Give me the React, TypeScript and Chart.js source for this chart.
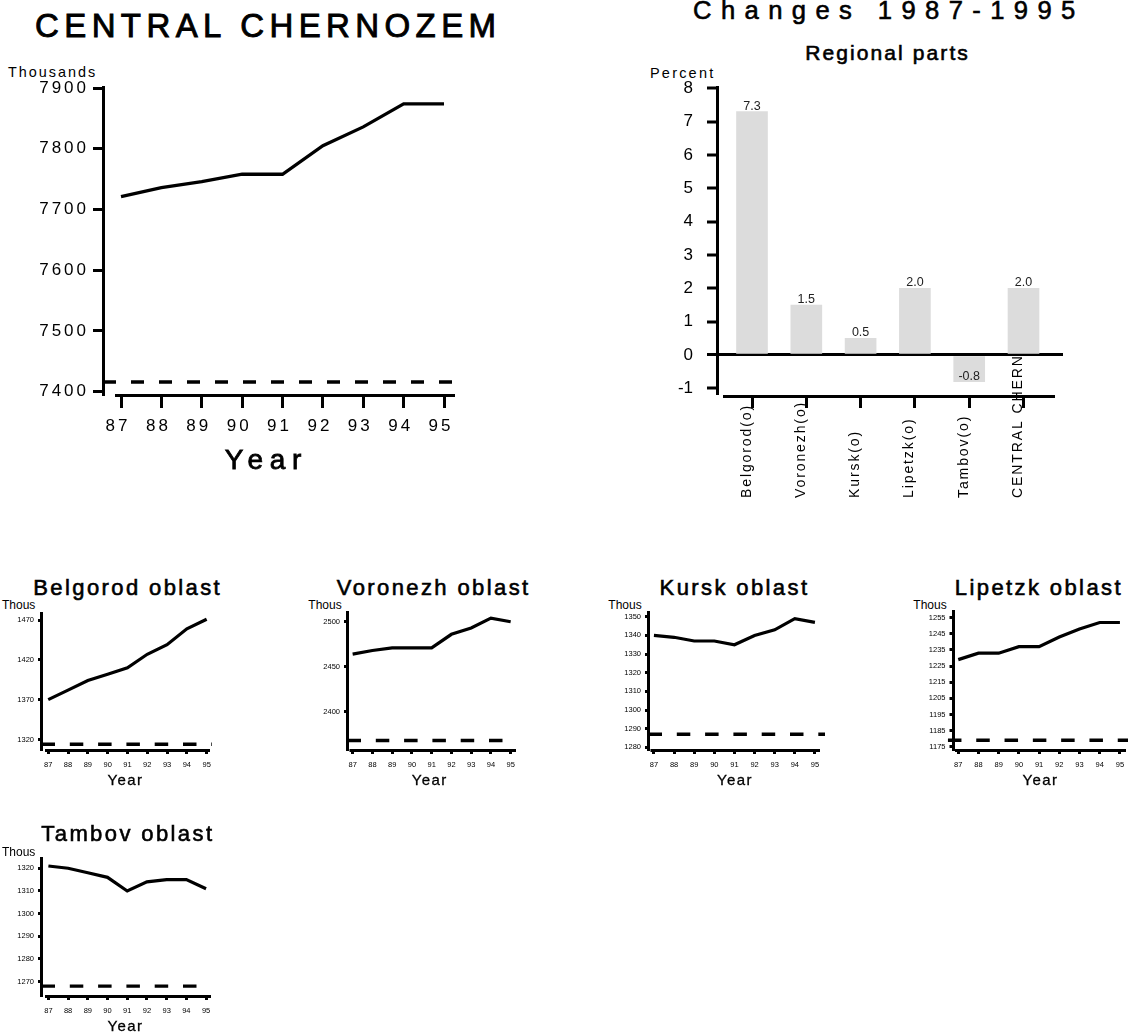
import React, { useEffect, useRef } from 'react';
import { Chart, registerables } from 'chart.js';

Chart.register(...registerables);

const FONT = '"Liberation Sans", Arial, Helvetica, sans-serif';
const NARROW = '"Liberation Sans Narrow", "Liberation Sans", Arial, sans-serif';

// ---------------- data ----------------
const YEARS = [87, 88, 89, 90, 91, 92, 93, 94, 95];

const CENTRAL_VALUES = [7721, 7736, 7746, 7758, 7758, 7805, 7836, 7874, 7874];
const CENTRAL_TICKS = [7400, 7500, 7600, 7700, 7800, 7900];
const CENTRAL_BASE = 7416;

const REGION_LABELS = ['Belgorod(o)', 'Voronezh(o)', 'Kursk(o)', 'Lipetzk(o)', 'Tambov(o)', 'CENTRAL CHERN'];
const REGION_CHANGES = [7.3, 1.5, 0.5, 2.0, -0.8, 2.0];
const CHANGE_TICKS = [-1, 0, 1, 2, 3, 4, 5, 6, 7, 8];

const BELGOROD_VALUES = [1370, 1382, 1394, 1402, 1410, 1427, 1439, 1459, 1471];
const BELGOROD_TICKS = [1320, 1370, 1420, 1470];
const BELGOROD_BASE = 1314;

const VORONEZH_VALUES = [2464, 2468, 2471, 2471, 2471, 2486, 2493, 2504, 2500];
const VORONEZH_TICKS = [2400, 2450, 2500];
const VORONEZH_BASE = 2368;

const KURSK_VALUES = [1340, 1339, 1337, 1337, 1335, 1340, 1343, 1349, 1347];
const KURSK_TICKS = [1280, 1290, 1300, 1310, 1320, 1330, 1340, 1350];
const KURSK_BASE = 1287;

const LIPETZK_VALUES = [1229, 1233, 1233, 1237, 1237, 1243, 1248, 1252, 1252];
const LIPETZK_TICKS = [1175, 1185, 1195, 1205, 1215, 1225, 1235, 1245, 1255];
const LIPETZK_BASE = 1179;

const TAMBOV_VALUES = [1321, 1320, 1318, 1316, 1310, 1314, 1315, 1315, 1311];
const TAMBOV_TICKS = [1270, 1280, 1290, 1300, 1310, 1320];
const TAMBOV_BASE = 1268;

// ---------------- plugins ----------------
const spacingPlugin = {
  id: 'spacing',
  beforeDraw(chart: any, _a: any, opts: any) {
    chart.ctx.letterSpacing = (opts && opts.value) || '0px';
  },
};

const axisLinePlugin = {
  id: 'axisLine',
  afterDatasetsDraw(chart: any, _a: any, opts: any) {
    const { ctx, chartArea } = chart;
    const w = opts.width || 3;
    ctx.save();
    ctx.strokeStyle = '#000';
    ctx.lineWidth = w;
    ctx.setLineDash([]);
    ctx.beginPath();
    const y = chartArea.bottom + w / 2;
    ctx.moveTo(chartArea.left + (opts.insetLeft || 0), y);
    ctx.lineTo(chartArea.right - (opts.insetRight || 0), y);
    ctx.stroke();
    ctx.restore();
  },
};

const barValuePlugin = {
  id: 'barValues',
  afterDatasetsDraw(chart: any) {
    const meta = chart.getDatasetMeta(0);
    const ys = chart.scales.y;
    const ctx = chart.ctx;
    ctx.save();
    ctx.letterSpacing = '0px';
    ctx.font = `12.5px ${FONT}`;
    ctx.fillStyle = '#222';
    ctx.textAlign = 'center';
    ctx.textBaseline = 'alphabetic';
    meta.data.forEach((el: any, i: number) => {
      const v = REGION_CHANGES[i];
      ctx.fillText(v.toFixed(1), el.x, ys.getPixelForValue(v) - 2);
    });
    ctx.restore();
  },
};

const rotatedLabelPlugin = {
  id: 'rotLabels',
  afterDraw(chart: any, _a: any, opts: any) {
    const xs = chart.scales.x;
    const ctx = chart.ctx;
    ctx.save();
    ctx.font = `14px ${FONT}`;
    ctx.letterSpacing = '1.9px';
    ctx.fillStyle = '#000';
    REGION_LABELS.forEach((lab, i) => {
      const x = xs.getPixelForValue(i);
      ctx.save();
      ctx.translate(x - 1.5, chart.chartArea.bottom + opts.offset);
      ctx.rotate(-Math.PI / 2);
      ctx.textAlign = 'left';
      ctx.textBaseline = 'alphabetic';
      ctx.fillText(lab, 0, 0);
      ctx.restore();
    });
    ctx.restore();
  },
};

// ---------------- layout specs ----------------
type Box = { x: number; y: number; w: number; h: number };
type Area = { l: number; t: number; r: number; b: number };

interface LineSpec {
  box: Box;
  area: Area;
  values: number[];
  ticks: number[];
  base: number;
  yRange: [number, number];
  xRange: [number, number];
  inset: [number, number];
  big: boolean;
  dashFrom?: number;
}

const MAIN_SPEC: LineSpec = {
  box: { x: 0, y: 60, w: 480, h: 400 },
  area: { l: 103, t: 87, r: 464, b: 394 },
  values: CENTRAL_VALUES,
  ticks: CENTRAL_TICKS,
  base: CENTRAL_BASE,
  yRange: [7396.2, 7901.65],
  xRange: [86.554, 95.495],
  inset: [12, 9],
  big: true,
};

const SMALL_SPECS: LineSpec[] = [
  {
    box: { x: 0, y: 598, w: 232, h: 185 },
    area: { l: 41.5, t: 613, r: 212, b: 749 },
    values: BELGOROD_VALUES, ticks: BELGOROD_TICKS, base: BELGOROD_BASE,
    yRange: [1308.1, 1478.8], xRange: [86.66, 95.27], inset: [3.5, 2], big: false,
  },
  {
    box: { x: 290, y: 598, w: 250, h: 185 },
    area: { l: 347.5, t: 612, r: 516, b: 749 },
    values: VORONEZH_VALUES, ticks: VORONEZH_TICKS, base: VORONEZH_BASE,
    yRange: [2358.6, 2510.8], xRange: [86.74, 95.27], inset: [2, 0], big: false,
  },
  {
    box: { x: 580, y: 598, w: 265, h: 185 },
    area: { l: 648.5, t: 612.3, r: 825, b: 749 },
    values: KURSK_VALUES, ticks: KURSK_TICKS, base: KURSK_BASE,
    yRange: [1279.1, 1352.4], xRange: [86.73, 95.5], inset: [2, 5], big: false,
  },
  {
    box: { x: 870, y: 598, w: 263, h: 185 },
    area: { l: 953, t: 611.7, r: 1128, b: 749 },
    values: LIPETZK_VALUES, ticks: LIPETZK_TICKS, base: LIPETZK_BASE,
    yRange: [1173.6, 1258.7], xRange: [86.74, 95.4], inset: [2, 2], big: false,
    dashFrom: 86.49,
  },
  {
    box: { x: 0, y: 843, w: 232, h: 185 },
    area: { l: 41.5, t: 858.3, r: 211, b: 995 },
    values: TAMBOV_VALUES, ticks: TAMBOV_TICKS, base: TAMBOV_BASE,
    yRange: [1264.1, 1324.4], xRange: [86.65, 95.25], inset: [3.5, 0], big: false,
  },
];

function lineConfig(s: LineSpec): any {
  const [xMin, xMax] = s.xRange;
  const big = s.big;
  const tickFont = big ? { family: FONT, size: 17 } : { family: NARROW, size: 7.5 };
  const dashStart = s.dashFrom !== undefined ? s.dashFrom : xMin;
  return {
    type: 'line',
    data: {
      datasets: [
        {
          data: YEARS.map((x, i) => ({ x, y: s.values[i] })),
          borderColor: '#000',
          borderWidth: big ? 3.3 : 3.2,
          pointRadius: 0,
          tension: 0,
          fill: false,
        },
        {
          data: [
            { x: dashStart, y: s.base },
            { x: xMax, y: s.base },
          ],
          borderColor: '#000',
          borderWidth: big ? 3.5 : 3.4,
          borderDash: big ? [13, 15] : [13.5, 14.8],
          pointRadius: 0,
          fill: false,
          clip: s.dashFrom !== undefined ? false : undefined,
        },
      ],
    },
    options: {
      responsive: false,
      animation: false,
      events: [],
      layout: {
        padding: {
          left: 0,
          top: s.area.t - s.box.y,
          right: s.box.x + s.box.w - s.area.r,
          bottom: 0,
        },
      },
      plugins: {
        legend: { display: false },
        tooltip: { enabled: false },
        spacing: { value: big ? '3px' : '0px' },
        axisLine: { width: 3, insetLeft: s.inset[0], insetRight: s.inset[1] },
      },
      scales: {
        x: {
          type: 'linear',
          min: xMin,
          max: xMax,
          afterBuildTicks: (sc: any) => {
            sc.ticks = YEARS.map((v) => ({ value: v }));
          },
          afterFit: (sc: any) => {
            sc.height = s.box.y + s.box.h - s.area.b;
          },
          grid: {
            display: true,
            drawOnChartArea: false,
            drawTicks: true,
            tickLength: big ? 14 : 5,
            tickWidth: 3,
            tickColor: '#000',
            color: '#000',
            lineWidth: 3,
          },
          border: { display: false },
          ticks: {
            font: tickFont,
            color: '#000',
            padding: big ? 8 : 6.5,
            maxRotation: 0,
            minRotation: 0,
            autoSkip: false,
            labelOffset: big ? -3 : 0,
            callback: (v: any) => String(v),
          },
        },
        y: {
          type: 'linear',
          min: s.yRange[0],
          max: s.yRange[1],
          afterBuildTicks: (sc: any) => {
            sc.ticks = s.ticks.map((v) => ({ value: v }));
          },
          afterFit: (sc: any) => {
            sc.width = s.area.l - s.box.x;
          },
          grid: {
            display: true,
            drawOnChartArea: false,
            drawTicks: true,
            tickLength: big ? 10 : 3.5,
            tickWidth: 3,
            tickColor: '#000',
            color: '#000',
            lineWidth: 3,
          },
          border: { display: true, width: 3, color: '#000' },
          ticks: {
            font: tickFont,
            color: '#000',
            padding: big ? 4 : 4,
            autoSkip: false,
            callback: (v: any) => String(v),
          },
        },
      },
    },
    plugins: [spacingPlugin, axisLinePlugin],
  };
}

const BAR_BOX: Box = { x: 600, y: 55, w: 533, h: 455 };
const BAR_AREA: Area = { l: 717, t: 87, r: 1063, b: 395 };

function barConfig(): any {
  return {
    type: 'bar',
    data: {
      datasets: [
        {
          data: REGION_CHANGES.map((y, i) => ({ x: i, y })),
          backgroundColor: '#dcdcdc',
          borderWidth: 0,
          barThickness: 31,
        },
      ],
    },
    options: {
      responsive: false,
      animation: false,
      events: [],
      layout: {
        padding: {
          left: 0,
          top: BAR_AREA.t - BAR_BOX.y,
          right: BAR_BOX.x + BAR_BOX.w - BAR_AREA.r,
          bottom: 0,
        },
      },
      plugins: {
        legend: { display: false },
        tooltip: { enabled: false },
        spacing: { value: '0px' },
        axisLine: { width: 3, insetLeft: 6, insetRight: 8 },
        rotLabels: { offset: 103 },
      },
      scales: {
        x: {
          type: 'linear',
          offset: false,
          min: -0.6446,
          max: 5.727,
          afterBuildTicks: (sc: any) => {
            sc.ticks = REGION_LABELS.map((_, i) => ({ value: i }));
          },
          afterFit: (sc: any) => {
            sc.height = BAR_BOX.y + BAR_BOX.h - BAR_AREA.b;
          },
          grid: {
            offset: false,
            display: true,
            drawOnChartArea: false,
            drawTicks: true,
            tickLength: 13,
            tickWidth: 3,
            tickColor: '#000',
            color: '#000',
            lineWidth: 3,
          },
          border: { display: false },
          ticks: { display: false },
        },
        y: {
          type: 'linear',
          min: -1.201,
          max: 8.039,
          beginAtZero: false,
          afterBuildTicks: (sc: any) => {
            sc.ticks = CHANGE_TICKS.map((v) => ({ value: v }));
          },
          afterFit: (sc: any) => {
            sc.width = BAR_AREA.l - BAR_BOX.x;
          },
          grid: {
            display: true,
            drawOnChartArea: true,
            drawTicks: true,
            color: (c: any) => (c.tick && c.tick.value === 0 ? '#000' : 'rgba(0,0,0,0)'),
            lineWidth: (c: any) => (c.tick && c.tick.value === 0 ? 3 : 0),
            tickColor: '#000',
            tickWidth: 3,
            tickLength: 10,
          },
          border: { display: true, width: 3, color: '#000' },
          ticks: {
            font: { family: FONT, size: 17 },
            color: '#000',
            padding: 14,
            autoSkip: false,
            callback: (v: any) => String(v),
          },
        },
      },
    },
    plugins: [spacingPlugin, axisLinePlugin, barValuePlugin, rotatedLabelPlugin],
  };
}

// ---------------- components ----------------
function ChartCanvas({ box, makeConfig }: { box: Box; makeConfig: () => any }) {
  const ref = useRef<HTMLCanvasElement | null>(null);
  useEffect(() => {
    if (!ref.current) return;
    const chart = new Chart(ref.current, makeConfig());
    return () => chart.destroy();
  }, []);
  return (
    <canvas
      ref={ref}
      width={box.w}
      height={box.h}
      style={{ position: 'absolute', left: box.x, top: box.y, width: box.w, height: box.h }}
    />
  );
}

function Txt(props: {
  text: string;
  x: number;
  base: number;
  size: number;
  stroke?: number;
  ls?: number;
  center?: boolean;
  family?: string;
}) {
  const { text, x, base, size, stroke = 0, ls = 0, center, family = FONT } = props;
  const top = base - 0.8465 * size;
  return (
    <div
      style={{
        position: 'absolute',
        left: x,
        top,
        fontFamily: family,
        fontSize: size,
        lineHeight: `${size}px`,
        fontWeight: 'normal',
        letterSpacing: ls,
        whiteSpace: 'nowrap',
        color: '#000',
        WebkitTextStroke: stroke ? `${stroke}px #000` : undefined,
        paddingLeft: center ? ls : 0,
        transform: center ? 'translateX(-50%)' : undefined,
      }}
    >
      {text}
    </div>
  );
}

const SMALL_TITLES = ['Belgorod oblast', 'Voronezh oblast', 'Kursk oblast', 'Lipetzk oblast', 'Tambov oblast'];
const SMALL_TITLE_POS = [
  { cx: 126.5, base: 596, thousX: 2, thousBase: 609.5, yearCx: 124.7, yearBase: 785 },
  { cx: 432.5, base: 596, thousX: 308.3, thousBase: 609.5, yearCx: 429, yearBase: 785 },
  { cx: 733.3, base: 596, thousX: 608.3, thousBase: 609.5, yearCx: 734.3, yearBase: 785 },
  { cx: 1037.7, base: 596, thousX: 913.3, thousBase: 609.5, yearCx: 1039.7, yearBase: 785 },
  { cx: 126.7, base: 841.7, thousX: 2, thousBase: 856, yearCx: 124.7, yearBase: 1030.5 },
];

export default function App() {
  return (
    <div
      style={{
        position: 'absolute',
        left: 0,
        top: 0,
        width: 1133,
        height: 1035,
        background: '#fff',
        overflow: 'hidden',
      }}
    >
      {/* main chart */}
      <Txt text="CENTRAL CHERNOZEM" x={35} base={37.3} size={33} stroke={0.9} ls={5.4} />
      <Txt text="Thousands" x={8} base={77.3} size={14.4} ls={2} />
      <ChartCanvas box={MAIN_SPEC.box} makeConfig={() => lineConfig(MAIN_SPEC)} />
      <Txt text="Year" x={263} base={470} size={28} stroke={0.8} ls={6.7} center />

      {/* bar chart */}
      <Txt text="Changes 1987-1995" x={693} base={20} size={25.6} stroke={0.6} ls={9.4} />
      <Txt text="Regional parts" x={886.5} base={60} size={21} stroke={0.6} ls={2.1} center />
      <Txt text="Percent" x={650} base={78} size={14.5} ls={2.2} />
      <ChartCanvas box={BAR_BOX} makeConfig={barConfig} />

      {/* small charts */}
      {SMALL_SPECS.map((s, i) => (
        <React.Fragment key={i}>
          <Txt text={SMALL_TITLES[i]} x={SMALL_TITLE_POS[i].cx} base={SMALL_TITLE_POS[i].base} size={22} stroke={0.6} ls={2.4} center />
          <Txt text="Thous" x={SMALL_TITLE_POS[i].thousX} base={SMALL_TITLE_POS[i].thousBase} size={12} family={NARROW} />
          <ChartCanvas box={s.box} makeConfig={() => lineConfig(s)} />
          <Txt text="Year" x={SMALL_TITLE_POS[i].yearCx} base={SMALL_TITLE_POS[i].yearBase} size={15} stroke={0.3} ls={1.4} center />
        </React.Fragment>
      ))}
    </div>
  );
}
